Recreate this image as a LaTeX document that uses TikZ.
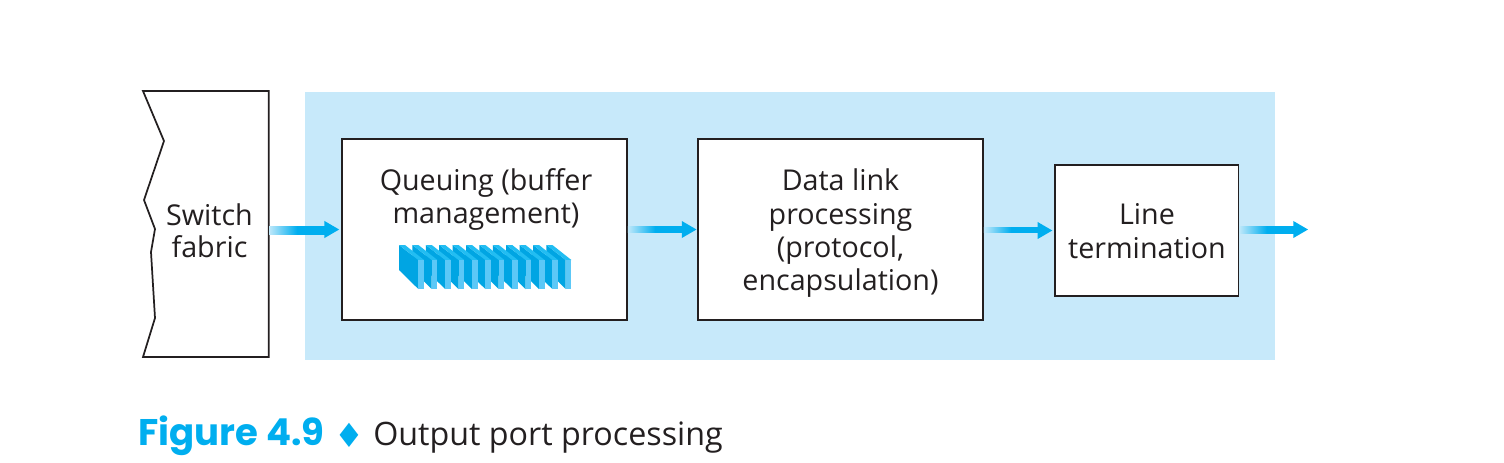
\documentclass[tikz,border=0pt]{standalone}
\usepackage{fontspec}
\setmainfont{Open Sans}
\newfontfamily\capfont{Poppins}
\newfontfamily\symfont{DejaVu Sans}
\usetikzlibrary{calc,shadings}
\definecolor{panelblue}{HTML}{C7E9FA}
\definecolor{arrowblue}{HTML}{00AEEF}
\definecolor{arrowpale}{HTML}{BFE8FA}
\definecolor{slatdark}{HTML}{00A5E3}
\definecolor{slatlight}{HTML}{5CC8F7}
\definecolor{slattop}{HTML}{22BDF2}
\definecolor{inkcol}{HTML}{231F20}
\tikzset{
  x=0.75pt,y=-0.75pt,
  procbox/.style={draw=inkcol,line width=1.3pt,fill=white,inner sep=0pt},
  boxtext/.style={inner sep=0pt,align=center,font=\fontsize{21.5}{25}\selectfont,text=inkcol},
  fabrictext/.style={inner sep=0pt,align=center,font=\fontsize{21.5}{24}\selectfont,text=inkcol,minimum width=89pt,minimum height=60pt},
  captiontext/.style={inner sep=0pt,anchor=base west,text=inkcol}
}
\newcommand{\gradarrow}[3]{%
  \shade[left color=arrowpale,right color=arrowblue,middle color=arrowblue,shading=axis,shading angle=90]
    ($(#1.east)+(0pt,-2.3pt)$) rectangle ($(#2)+(-#3pt-10.5pt,2.3pt)$);
  \fill[arrowblue] ($(#2)+(-#3pt-11pt,-6.4pt)$) -- ($(#2)+(-#3pt,0pt)$) -- ($(#2)+(-#3pt-11pt,6.4pt)$) -- cycle;
}
\newcommand{\slat}[1]{%
  \begin{scope}[xshift=#1*10.05pt]
    \fill[slatdark] (399,245) -- (418.3,260) -- (418.3,289) -- (399,270) -- cycle;
    \fill[slattop] (399,245) -- (405,245) -- (424,260) -- (418.3,260) -- cycle;
    \fill[slatlight] (418.3,260) -- (424,260) -- (424,289) -- (418.3,289) -- cycle;
  \end{scope}}
\begin{document}
\begin{tikzpicture}
\useasboundingbox (0,0) rectangle (1504,462);
\fill[panelblue] (305,92) rectangle (1274.5,360);
\draw[inkcol,line width=1.3pt,fill=white,line join=miter] (143,91) -- (268.7,91) -- (268.7,357) -- (143,357)
  -- (155,318) -- (151,252) -- (155,229) -- (144,200) -- (164,141) -- cycle;
\node[fabrictext] (fabric) at (209.5,231) {Switch\\fabric};
\node[procbox,minimum width=213.75pt,minimum height=135.75pt] (queue) at (484.5,229.5) {};
\node[boxtext] (queuetext) at (486,199.5) {Queuing (buffer\\management)};
\foreach \i in {11,10,...,0}{\slat{\i}}
\node[procbox,minimum width=213.75pt,minimum height=135.75pt] (datalink) at (840.5,229.5) {};
\node[boxtext] (datatext) at (840.5,233.5) {Data link\\processing\\(protocol,\\encapsulation)};
\node[procbox,minimum width=137.5pt,minimum height=98.25pt] (line) at (1146.8,230.5) {};
\node[boxtext] (linetext) at (1147,231) {Line\\termination};
\coordinate (exit) at (1308,229.5);
\gradarrow{fabric}{queue.west}{1.5}
\gradarrow{queue}{datalink.west}{0.5}
\gradarrow{datalink}{line.west}{1.5}
\gradarrow{line}{exit}{0}
\node[captiontext] (figlabel) at (138,445) {\capfont\bfseries\fontsize{27.8}{30}\selectfont\textcolor{arrowblue}{Figure 4.9}};
\node[captiontext] (figmark) at (334,447) {\symfont\fontsize{25}{28}\selectfont\textcolor{arrowblue}{♦}};
\node[captiontext] (figtitle) at (373,445) {\fontsize{24.2}{30}\selectfont Output port processing};
\end{tikzpicture}
\end{document}
